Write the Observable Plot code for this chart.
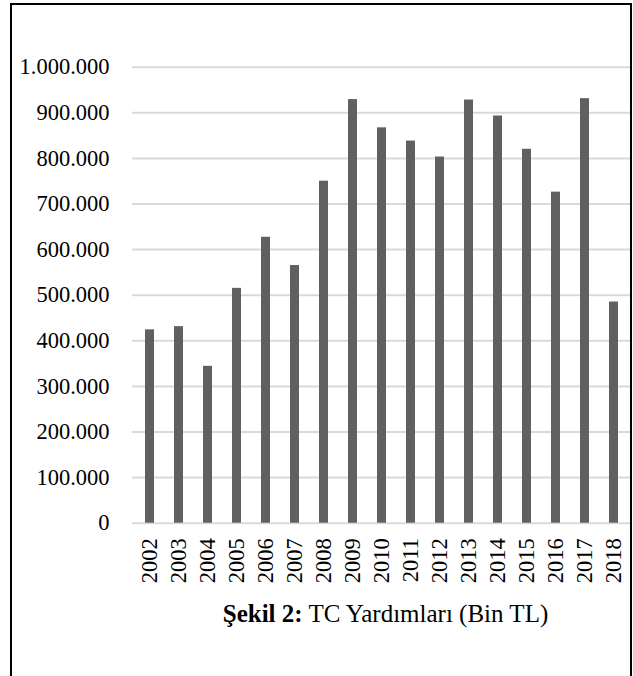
<!DOCTYPE html>
<html>
<head>
<meta charset="utf-8">
<script src="https://cdn.jsdelivr.net/npm/d3@7"></script>
<script src="https://cdn.jsdelivr.net/npm/@observablehq/plot@0.6"></script>
<style>
  html, body { margin: 0; padding: 0; background: #fff; }
  body { width: 633px; height: 676px; position: relative; overflow: hidden; font-family: "Liberation Serif", "Times New Roman", serif; }
  #chart { position: absolute; left: 0; top: 0; }
  #frame { position: absolute; left: 10px; top: 3px; width: 622px; height: 720px; box-sizing: border-box; border: 2.5px solid #000; border-bottom: none; pointer-events: none; }
  #caption { position: absolute; left: 136px; width: 499px; top: 600.5px; line-height: 25px; text-align: center; font-size: 25px; color: #000; white-space: nowrap; }
</style>
</head>
<body>
<div id="chart"></div>
<div id="frame"></div>
<div id="caption"><b>Şekil 2:</b> TC Yardımları (Bin TL)</div>
<script>
const years = ["2002","2003","2004","2005","2006","2007","2008","2009","2010","2011","2012","2013","2014","2015","2016","2017","2018"];
const values = [424000, 431000, 344000, 515000, 627000, 565000, 750000, 929000, 867000, 838000, 803000, 928000, 893000, 820000, 726000, 931000, 485000];
const yTicks = [0, 100000, 200000, 300000, 400000, 500000, 600000, 700000, 800000, 900000, 1000000];

const data = years.map((y, i) => ({year: y, value: values[i]}));
const fmt = d3.formatLocale({thousands: ".", decimal: ",", grouping: [3], currency: ["", ""]}).format(",");

const chart = Plot.plot({
  width: 633,
  height: 600,
  marginLeft: 132,
  marginRight: 2,
  marginTop: 66.7,
  marginBottom: 77.3,
  style: {fontFamily: '"Liberation Serif", "Times New Roman", serif', fontSize: "22.5px", color: "#000", background: "transparent"},
  x: {domain: years, paddingInner: 0.68, paddingOuter: 0.34, align: 0.5},
  y: {domain: [0, 1000000]},
  marks: [
    Plot.ruleY(yTicks, {stroke: "#d9d9d9", strokeWidth: 2}),
    Plot.barY(data, {x: "year", y: "value", fill: "#606060"}),
    Plot.axisY({ticks: yTicks, tickFormat: fmt, tickSize: 0, tickPadding: 23, label: null, fill: "#000"}),
    Plot.axisX({tickRotate: -90, tickSize: 0, tickPadding: 15, label: null, fill: "#000"})
  ]
});
document.getElementById("chart").appendChild(chart);
</script>
</body>
</html>
